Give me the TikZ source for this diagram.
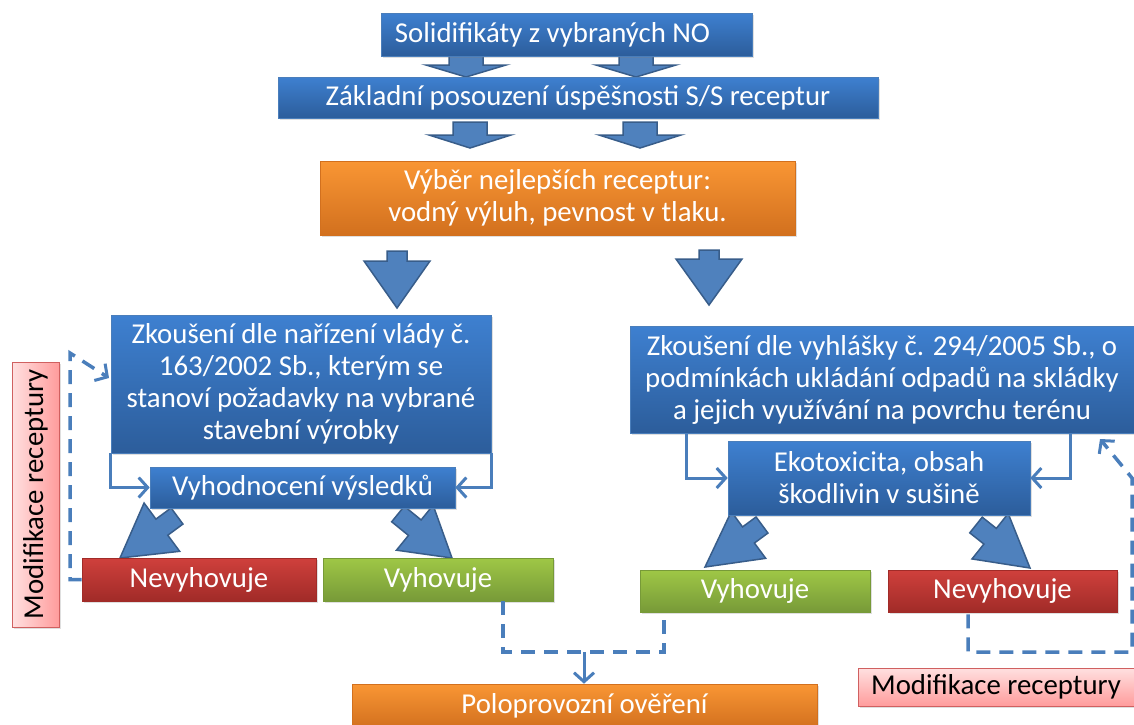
\documentclass[tikz,border=0pt]{standalone}
\usepackage{fontspec}
\setmainfont{Carlito}
\usetikzlibrary{calc,arrows.meta,shadows}
\definecolor{blueT}{HTML}{3E80D0}
\definecolor{blueB}{HTML}{2C5D9B}
\definecolor{blueE}{HTML}{4A7EBB}
\definecolor{orT}{HTML}{F99634}
\definecolor{orB}{HTML}{D2701E}
\definecolor{redT}{HTML}{CF403C}
\definecolor{redB}{HTML}{A12B28}
\definecolor{grT}{HTML}{9FC746}
\definecolor{grB}{HTML}{779A38}
\definecolor{pkL}{HTML}{FFE0E0}
\definecolor{pkD}{HTML}{FF9C9C}
\definecolor{pkE}{HTML}{D06060}
\definecolor{arF}{HTML}{4F81BD}
\definecolor{arE}{HTML}{385D8A}
\definecolor{lnC}{HTML}{4A7EBB}
\newcommand\blockarrow[5]{%
  \coordinate (bah) at ($(#2)!#5!(#1)$);
  \filldraw[barrow] ($(#1)!#3!90:(#2)$) -- ($(bah)!#3!90:(#2)$) -- ($(bah)!#4!90:(#2)$) -- (#2)
    -- ($(bah)!#4!-90:(#2)$) -- ($(bah)!#3!-90:(#2)$) -- ($(#1)!#3!-90:(#2)$) -- cycle;}
\tikzset{
  box/.style={rectangle, inner sep=2pt, align=center, text=white,
    font=\fontsize{28.8}{32}\selectfont,
    drop shadow={shadow xshift=2pt, shadow yshift=-2pt, opacity=0.25}},
  bluebox/.style={box, top color=blueT, bottom color=blueB, draw=blueE, line width=0.6pt},
  orbox/.style={box, top color=orT, bottom color=orB, draw=orB, line width=0.6pt},
  redbox/.style={box, top color=redT, bottom color=redB, draw=redB, line width=0.6pt},
  grbox/.style={box, top color=grT, bottom color=grB, draw=grB, line width=0.6pt},
  pkbox/.style={box, text=black, draw=pkE, line width=0.8pt},
  barrow/.style={fill=arF, draw=arE, line width=1.5pt, line join=miter},
  thin/.style={draw=lnC, line width=3pt, -{Straight Barb[length=9pt,width=20pt,line width=3pt]}},
  dashline/.style={draw=lnC, line width=3.5pt, dash pattern=on 14pt off 9pt},
  dasharrow/.style={dashline, -{Straight Barb[length=9pt,width=20pt,line width=3pt]}},
}
\begin{document}
\begin{tikzpicture}[x=1pt,y=-1pt]
\useasboundingbox (0,0) rectangle (1134,724);
\fill[white] (0,0) rectangle (1134,724);

% block arrows (drawn first)
\coordinate (a1t) at (466,54);  \coordinate (a1h) at (466,77);
\coordinate (a2t) at (636,54);  \coordinate (a2h) at (636,77);
\coordinate (a3t) at (470,122); \coordinate (a3h) at (470,148);
\coordinate (a4t) at (640,122); \coordinate (a4h) at (640,148);
\coordinate (a5t) at (397,251); \coordinate (a5h) at (397,308);
\coordinate (a6t) at (709,250); \coordinate (a6h) at (709,305);
\coordinate (d1t) at (177,516); \coordinate (d1h) at (120,558);
\coordinate (d2t) at (398,514); \coordinate (d2h) at (452,558);
\coordinate (d3t) at (762,525); \coordinate (d3h) at (705,567);
\coordinate (d4t) at (976,525); \coordinate (d4h) at (1030,568);
\blockarrow{a1t}{a1h}{17pt}{40pt}{12pt}
\blockarrow{a2t}{a2h}{17pt}{40pt}{12pt}
\blockarrow{a3t}{a3h}{17pt}{41pt}{13pt}
\blockarrow{a4t}{a4h}{17pt}{41pt}{13pt}
\blockarrow{a5t}{a5h}{10pt}{33pt}{47pt}
\blockarrow{a6t}{a6h}{10pt}{33pt}{46pt}
\blockarrow{d1t}{d1h}{10pt}{30pt}{52pt}
\blockarrow{d2t}{d2h}{10pt}{29pt}{48pt}
\blockarrow{d3t}{d3h}{10pt}{29pt}{54pt}
\blockarrow{d4t}{d4h}{10pt}{29pt}{51pt}

% boxes
\node[bluebox, minimum width=371pt, minimum height=43pt] (sol) at (566.5,34.5) {\hspace*{-28pt}Solidifikáty z vybraných NO};
\node[bluebox, minimum width=600pt, minimum height=41pt] (zak) at (578,97.5) {Základní posouzení úspěšnosti S/S receptur};
\node[orbox, minimum width=475pt, minimum height=74pt] (vyb) at (557.5,198) {Výběr nejlepších receptur:\\vodný výluh, pevnost v tlaku.};
\node[bluebox, minimum width=380pt, minimum height=138pt] (zkl) at (301,384) {Zkoušení dle nařízení vlády č.\\163/2002 Sb., kterým se\\stanoví požadavky na vybrané\\stavební výrobky};
\node[bluebox, minimum width=504pt, minimum height=107pt] (zkr) at (882,379.5) {Zkoušení dle vyhlášky č. 294/2005 Sb., o\\podmínkách ukládání odpadů na skládky\\a jejich využívání na povrchu terénu};
\node[bluebox, minimum width=305pt, minimum height=41pt] (vyh) at (302.5,487.5) {Vyhodnocení výsledků};
\node[bluebox, minimum width=302pt, minimum height=74pt] (eko) at (879,478) {Ekotoxicita, obsah\\škodlivin v sušině};
\node[redbox, minimum width=234pt, minimum height=43pt] (nevl) at (199,579.5) {Nevyhovuje};
\node[grbox, minimum width=230pt, minimum height=43pt] (vyhl) at (438,579.5) {Vyhovuje};
\node[grbox, minimum width=230pt, minimum height=42pt] (vyhr) at (755,591) {Vyhovuje};
\node[redbox, minimum width=229pt, minimum height=42pt] (nevr) at (1002.5,591) {Nevyhovuje};
\node[orbox, minimum width=465pt, minimum height=44pt] (polo) at (584.5,706) {Poloprovozní ověření};
\node[pkbox, left color=pkL, right color=pkD, rotate=90, minimum width=265pt, minimum height=47pt] (modl) at (35.5,494.5) {Modifikace receptury};
\node[pkbox, top color=pkL, bottom color=pkD, minimum width=276pt, minimum height=38pt] (modr) at (996,687) {Modifikace receptury};

% thin connectors
\draw[thin] (zkl.south west) |- (vyh.west);
\draw[thin] (zkl.south east) |- (vyh.east);
\draw[thin] ($(zkr.south west)+(57,0)$) |- (eko.west);
\draw[thin] ($(zkr.south east)+(-64,0)$) |- (eko.east);

% dashed feedback and result lines
\coordinate (cl) at (70,353);
\coordinate (zltip) at (109,378);
\draw[dasharrow] (nevl.west) -| (cl) -- (zltip);
\coordinate (ml) at (503,652);
\coordinate (mr) at (664,652);
\coordinate (mj) at (584,652);
\draw[dashline] ($(vyhl.south)+(65,0)$) -- (ml) -- (mr) -- ($(vyhr.south)+(-91,0)$);
\draw[lnC, line width=3pt, -{Straight Barb[length=9pt,width=20pt,line width=3pt]}] (mj) -- (polo.north -| mj);
\coordinate (rb) at (968,652);
\coordinate (rc) at (1132,652);
\coordinate (rd) at (1132,478);
\coordinate (rtip) at (1100,439);
\draw[dasharrow] ($(nevr.south)+(-34.5,2)$) -- (rb) -- (rc) -- (rd) -- (rtip);
\end{tikzpicture}
\end{document}
